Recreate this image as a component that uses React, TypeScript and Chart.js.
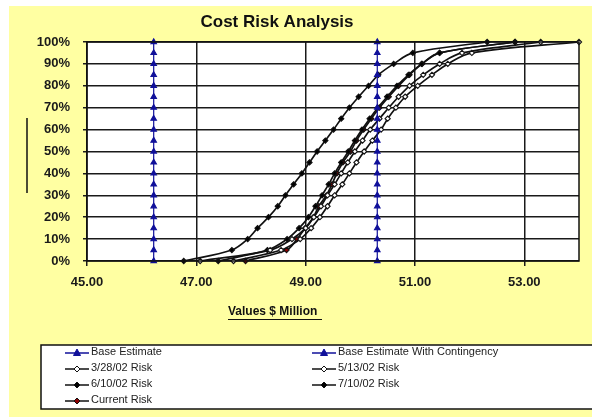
import React, { useEffect, useRef } from "react";
import { Chart, registerables } from "chart.js";

Chart.register(...registerables);

// ---- data ----
const percentiles = [0, 5, 10, 15, 20, 25, 30, 35, 40, 45, 50, 55, 60, 65, 70, 75, 80, 85, 90, 95, 100];
const baseEstimate = 46.22;
const baseWithContingency = 50.31;
const risk0328 = [47.68, 48.55, 48.9, 49.1, 49.26, 49.4, 49.53, 49.67, 49.8, 49.93, 50.07, 50.22, 50.38, 50.5, 50.65, 50.82, 51.05, 51.31, 51.6, 52.04, 54.0];
const risk0513 = [47.07, 48.35, 48.75, 49.0, 49.15, 49.28, 49.4, 49.53, 49.65, 49.77, 49.9, 50.04, 50.18, 50.35, 50.52, 50.7, 50.9, 51.15, 51.45, 51.86, 53.3];
const risk0610 = [47.4, 48.3, 48.66, 48.88, 49.05, 49.18, 49.3, 49.42, 49.53, 49.65, 49.78, 49.9, 50.03, 50.17, 50.32, 50.49, 50.67, 50.88, 51.12, 51.45, 52.83];
const risk0710 = [46.77, 47.65, 47.94, 48.12, 48.32, 48.49, 48.63, 48.78, 48.93, 49.07, 49.21, 49.36, 49.51, 49.65, 49.8, 49.97, 50.15, 50.33, 50.61, 50.96, 52.32];
const riskCurrent = [47.9, 48.65, 48.84, 48.99, 49.14, 49.24, 49.38, 49.48, 49.57, 49.68, 49.82, 49.93, 50.06, 50.2, 50.35, 50.52, 50.7, 50.9, 51.13, 51.45, 52.83];
const seriesNames = [
  "Base Estimate",
  "Base Estimate With Contingency",
  "3/28/02 Risk",
  "5/13/02 Risk",
  "6/10/02 Risk",
  "7/10/02 Risk",
  "Current Risk",
];
const xTicks = [45, 47, 49, 51, 53];
const xMin = 45;
const xMax = 54;
const yTicks = [0, 10, 20, 30, 40, 50, 60, 70, 80, 90, 100];
const titleText = "Cost Risk Analysis";
const xTitleText = "Values $ Million";

const NAVY = "#10109a";
const YELLOW = "#ffffa2";
const DARK_RED = "#8b0000";

const toPoints = (xs: number[]) => xs.map((x, i) => ({ x, y: percentiles[i] }));
const vertical = (x: number) => percentiles.map((p) => ({ x, y: p }));

type Style = { kind: "tri" | "dia"; fill: string };
const styles: Style[] = [
  { kind: "tri", fill: NAVY },
  { kind: "tri", fill: NAVY },
  { kind: "dia", fill: "#ffffff" },
  { kind: "dia", fill: "#ffffff" },
  { kind: "dia", fill: "#000000" },
  { kind: "dia", fill: "#000000" },
  { kind: "dia", fill: DARK_RED },
];

const decor = {
  id: "decor",
  beforeDraw(chart: any) {
    const { ctx, chartArea: a, width, height } = chart;
    ctx.save();
    ctx.fillStyle = "#ffffff";
    ctx.fillRect(0, 0, width, height);
    ctx.fillStyle = YELLOW;
    ctx.fillRect(9, 6, width - 9, height - 6);
    ctx.fillStyle = "#ffffff";
    ctx.fillRect(a.left, a.top, a.right - a.left, a.bottom - a.top);
    ctx.restore();
  },
  afterDraw(chart: any) {
    const { ctx, chartArea: a } = chart;
    ctx.save();
    // plot border
    ctx.strokeStyle = "#111";
    ctx.lineWidth = 1.5;
    ctx.strokeRect(a.left, a.top, a.right - a.left, a.bottom - a.top);
    // title
    ctx.fillStyle = "#111";
    ctx.font = "bold 17px 'Liberation Sans', Arial, sans-serif";
    ctx.textAlign = "center";
    ctx.textBaseline = "middle";
    ctx.fillText(titleText, 277, 22);
    // x-axis title underlined
    ctx.font = "bold 12px 'Liberation Sans', Arial, sans-serif";
    ctx.textAlign = "left";
    ctx.fillText(xTitleText, 228, 312);
    ctx.beginPath();
    ctx.lineWidth = 1.2;
    ctx.moveTo(228, 319.5);
    ctx.lineTo(322, 319.5);
    ctx.stroke();
    // stray vertical line at left
    ctx.beginPath();
    ctx.lineWidth = 1.5;
    ctx.moveTo(27, 118);
    ctx.lineTo(27, 193);
    ctx.stroke();
    // legend box
    ctx.fillStyle = "#ffffff";
    ctx.fillRect(41, 345, 560, 64);
    ctx.lineWidth = 1.5;
    ctx.strokeStyle = "#111";
    ctx.strokeRect(41, 345, 560, 64);
    ctx.font = "11px 'Liberation Sans', Arial, sans-serif";
    ctx.textBaseline = "middle";
    seriesNames.forEach((name, i) => {
      const col = i < 2 ? i : (i - 2) % 2;
      const row = i < 2 ? 0 : 1 + Math.floor((i - 2) / 2);
      const x0 = col === 0 ? 65 : 312;
      const y = 352 + row * 16;
      const st = styles[i];
      const lineColor = st.kind === "tri" ? NAVY : "#111";
      ctx.strokeStyle = lineColor;
      ctx.lineWidth = 1.5;
      ctx.beginPath();
      ctx.moveTo(x0, y + 1);
      ctx.lineTo(x0 + 24, y + 1);
      ctx.stroke();
      const cx = x0 + 12;
      const cy = y + 1;
      ctx.beginPath();
      if (st.kind === "tri") {
        ctx.moveTo(cx, cy - 4);
        ctx.lineTo(cx + 3.5, cy + 2.5);
        ctx.lineTo(cx - 3.5, cy + 2.5);
      } else {
        ctx.moveTo(cx, cy - 3);
        ctx.lineTo(cx + 3, cy);
        ctx.lineTo(cx, cy + 3);
        ctx.lineTo(cx - 3, cy);
      }
      ctx.closePath();
      ctx.fillStyle = st.fill;
      ctx.fill();
      ctx.lineWidth = 1;
      ctx.stroke();
      ctx.fillStyle = "#222";
      ctx.textAlign = "left";
      ctx.fillText(name, x0 + 26, y);
    });
    ctx.restore();
  },
};

export default function App() {
  const ref = useRef<HTMLCanvasElement | null>(null);
  useEffect(() => {
    document.body.style.margin = "0";
    if (!ref.current) return;
    const seriesX = [risk0328, risk0513, risk0610, risk0710, riskCurrent];
    const datasets: any[] = [
      {
        label: seriesNames[0],
        data: vertical(baseEstimate),
      },
      {
        label: seriesNames[1],
        data: vertical(baseWithContingency),
      },
      ...seriesX.map((xs, k) => ({ label: seriesNames[k + 2], data: toPoints(xs) })),
    ].map((d, i) => {
      const st = styles[i];
      const tri = st.kind === "tri";
      return {
        ...d,
        showLine: true,
        clip: false,
        borderColor: tri ? NAVY : "#111",
        borderWidth: tri ? 1.2 : 1.7,
        tension: tri ? 0 : 0.35,
        pointStyle: tri ? "triangle" : "rectRot",
        pointRadius: tri ? 3.2 : 2.6,
        pointBorderWidth: 1.1,
        pointBorderColor: tri ? NAVY : "#111",
        pointBackgroundColor: st.fill,
      };
    });
    const chart = new Chart(ref.current, {
      type: "scatter",
      data: { datasets },
      plugins: [decor],
      options: {
        animation: false,
        responsive: true,
        maintainAspectRatio: false,
        layout: { padding: { left: 0, top: 42, right: 13, bottom: 0 } },
        plugins: { legend: { display: false }, tooltip: { enabled: false }, title: { display: false } },
        scales: {
          x: {
            type: "linear",
            min: xMin,
            max: xMax,
            afterBuildTicks: (s: any) => {
              s.ticks = xTicks.map((v) => ({ value: v }));
            },
            afterFit: (s: any) => {
              s.height = 156;
            },
            grid: { color: "#1a1a1a", lineWidth: 1.5, tickLength: 5, drawTicks: true },
            border: { display: false },
            ticks: {
              color: "#1a1a1a",
              padding: 9,
              font: { family: "'Liberation Sans', Arial, sans-serif", size: 13, weight: "bold" },
              callback: (v: any) => Number(v).toFixed(2),
            },
          },
          y: {
            type: "linear",
            min: 0,
            max: 100,
            afterBuildTicks: (s: any) => {
              s.ticks = yTicks.map((v) => ({ value: v }));
            },
            afterFit: (s: any) => {
              s.width = 87;
            },
            grid: { color: "#1a1a1a", lineWidth: 1.5, tickLength: 4, drawTicks: true },
            border: { display: false },
            ticks: {
              color: "#1a1a1a",
              padding: 13,
              font: { family: "'Liberation Sans', Arial, sans-serif", size: 13, weight: "bold" },
              callback: (v: any) => v + "%",
            },
          },
        },
      } as any,
    });
    return () => chart.destroy();
  }, []);
  return (
    <div style={{ position: "relative", width: 592, height: 417 }}>
      <canvas ref={ref} />
    </div>
  );
}
